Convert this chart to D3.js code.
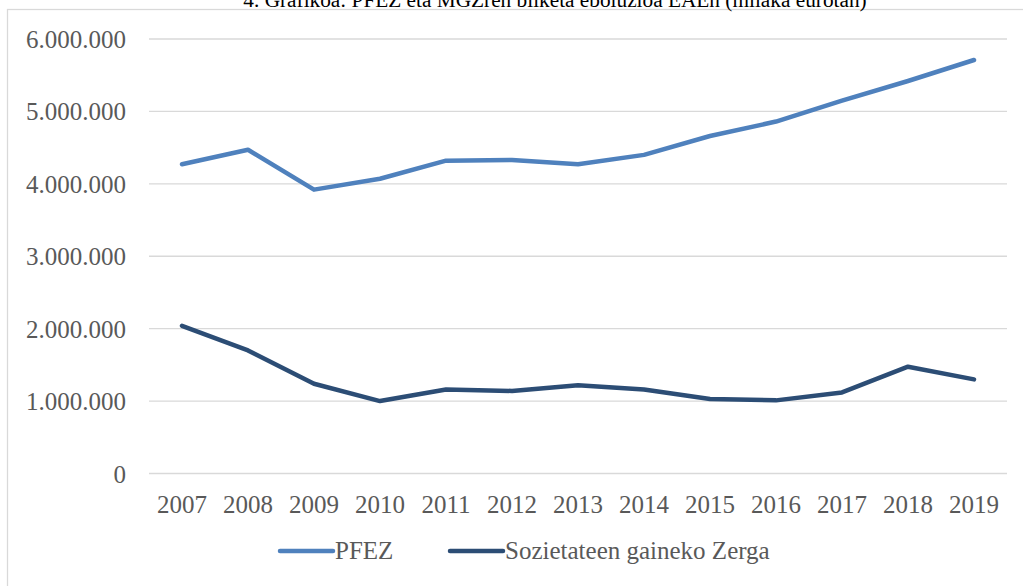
<!DOCTYPE html>
<html>
<head>
<meta charset="utf-8">
<script src="https://cdn.jsdelivr.net/npm/d3@7"></script>
<style>
  html, body { margin: 0; padding: 0; background: #ffffff; overflow: hidden; }
  svg { display: block; }
</style>
</head>
<body>
<svg id="chart" width="1023" height="586"></svg>
<script>
const titleText = "4. Grafikoa: PFEZ eta MGZren bilketa eboluzioa EAEn (milaka eurotan)";
const years = ["2007","2008","2009","2010","2011","2012","2013","2014","2015","2016","2017","2018","2019"];
const pfez = [4270000, 4470000, 3920000, 4070000, 4320000, 4330000, 4270000, 4400000, 4660000, 4860000, 5150000, 5420000, 5710000];
const sozietateak = [2040000, 1700000, 1240000, 1000000, 1160000, 1140000, 1220000, 1160000, 1030000, 1010000, 1120000, 1475000, 1300000];
const yTicks = [0, 1000000, 2000000, 3000000, 4000000, 5000000, 6000000];
const seriesNames = ["PFEZ", "Sozietateen gaineko Zerga"];
const seriesColors = ["#4f81bd", "#2c4d75"];

const svg = d3.select("#chart");
const font = "'Liberation Serif', 'Times New Roman', serif";

// outer chart border
svg.append("rect")
  .attr("x", 7.5).attr("y", 9.5)
  .attr("width", 1040).attr("height", 600)
  .attr("fill", "none").attr("stroke", "#d9d9d9").attr("stroke-width", 1.25);

// title (partially cut off at top, as in the reference)
svg.append("text")
  .attr("x", 555).attr("y", 6.5)
  .attr("text-anchor", "middle")
  .attr("font-family", font)
  .attr("font-size", 21.3)
  .attr("fill", "#000")
  .text(titleText);

const x = d3.scaleBand().domain(years).range([149, 1007]).padding(0);
const y = d3.scaleLinear().domain([0, 6000000]).range([473.5, 39]);
const cx = d => x(d) + x.bandwidth() / 2;

const fmt = v => v === 0 ? "0" : d3.format(",")(v).replace(/,/g, ".");

// gridlines
svg.append("g").selectAll("line").data(yTicks).join("line")
  .attr("x1", 149).attr("x2", 1007)
  .attr("y1", d => y(d)).attr("y2", d => y(d))
  .attr("stroke", "#d9d9d9").attr("stroke-width", 1.3);

// y axis (labels only)
const yAxis = svg.append("g")
  .attr("transform", "translate(126,0)")
  .call(d3.axisLeft(y).tickValues(yTicks).tickFormat(fmt).tickSize(0).tickPadding(0));
yAxis.select(".domain").remove();
yAxis.selectAll("text")
  .attr("font-family", font).attr("font-size", 25).attr("fill", "#595959")
  .attr("dy", "0.34em");

// x axis labels
const xAxis = svg.append("g")
  .attr("transform", "translate(0,473.5)")
  .call(d3.axisBottom(x).tickSize(0).tickPadding(0));
xAxis.select(".domain").remove();
xAxis.selectAll("text")
  .attr("font-family", font).attr("font-size", 25).attr("fill", "#595959")
  .attr("dy", null).attr("y", 39);

// lines
const line = d3.line().x((d, i) => cx(years[i])).y(d => y(d));
[pfez, sozietateak].forEach((data, k) => {
  svg.append("path")
    .datum(data)
    .attr("d", line)
    .attr("fill", "none")
    .attr("stroke", seriesColors[k])
    .attr("stroke-width", 4.5)
    .attr("stroke-linecap", "round")
    .attr("stroke-linejoin", "round");
});

// legend
const legendX = [280, 450];
const legend = svg.append("g");
seriesNames.forEach((name, k) => {
  legend.append("line")
    .attr("x1", legendX[k]).attr("x2", legendX[k] + 53)
    .attr("y1", 551).attr("y2", 551)
    .attr("stroke", seriesColors[k]).attr("stroke-width", 4.5)
    .attr("stroke-linecap", "round");
  legend.append("text")
    .attr("x", legendX[k] + 55).attr("y", 559)
    .attr("font-family", font).attr("font-size", 25).attr("fill", "#595959")
    .text(name);
});
</script>
</body>
</html>
